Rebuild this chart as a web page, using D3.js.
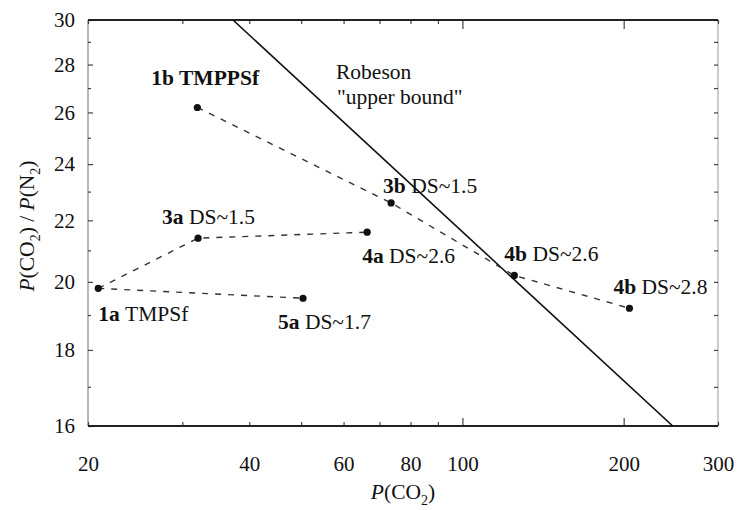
<!DOCTYPE html>
<html>
<head>
<meta charset="utf-8">
<script src="https://cdn.jsdelivr.net/npm/d3@7"></script>
<style>
  html, body { margin: 0; padding: 0; background: #fff; }
  svg { display: block; }
  svg text { font-family: "Liberation Serif", "DejaVu Serif", serif; fill: #111; }
</style>
</head>
<body>
<svg id="chart" width="737" height="510"></svg>
<script>
// ---------------- data ----------------
const pointIds    = ["1a", "1b", "3a", "3b", "4a", "4b", "4b", "5a"];
const pointNames  = ["TMPSf", "TMPPSf", "DS~1.5", "DS~1.5", "DS~2.6", "DS~2.6", "DS~2.8", "DS~1.7"];
const pCO2        = [20.9, 32.0, 32.1, 73.6, 66.4, 125, 205, 50.4];
const selectivity = [19.8, 26.2, 21.4, 22.6, 21.6, 20.2, 19.2, 19.5];
// dashed connections (indices into the point arrays)
const seriesA = [0, 2, 4];        // 1a -> 3a -> 4a
const seriesB = [0, 7];           // 1a -> 5a
const seriesC = [1, 3, 5, 6];     // 1b -> 3b -> 4b -> 4b
// Robeson upper bound end points
const robesonX = [37.3, 247];
const robesonY = [30, 16];
// ticks
const xTickLabels = [20, 40, 60, 80, 100, 200, 300];
const xMinorTicks = [20, 30, 40, 50, 60, 70, 80, 90, 100, 200, 300];
const xMajorTicks = [100, 200];
const yTickLabels = [16, 18, 20, 22, 24, 26, 28, 30];
const yMinorTicks = [16, 17, 18, 19, 20, 21, 22, 23, 24, 25, 26, 27, 28, 29, 30];

// ---------------- layout ----------------
const margin = { left: 88, top: 20, right: 19, bottom: 84 };
const W = 737, H = 510;
const x = d3.scaleLog().domain([20, 300]).range([margin.left, W - margin.right]);
const y = d3.scaleLog().domain([16, 30]).range([H - margin.bottom, margin.top]);

// label offsets relative to each point (px)
const labelOffsets = [
  [0, 33], [-46, -22], [-36, -14], [-8, -10],
  [-5, 31], [-10, -14], [-16, -14], [-25, 31]
];
const labelAllBold = [false, true, false, false, false, false, false, false];

const svg = d3.select("#chart");
const FS = 21.5;
const FONT = "Liberation Serif";

// ---------------- frame ----------------
const x0 = x.range()[0], x1 = x.range()[1];
const yTop = y.range()[1], yBot = y.range()[0];

svg.append("line").attr("x1", x0).attr("x2", x0).attr("y1", yTop).attr("y2", yBot)
  .attr("stroke", "#888").attr("stroke-width", 1.2);
svg.append("line").attr("x1", x1).attr("x2", x1).attr("y1", yTop).attr("y2", yBot)
  .attr("stroke", "#aaa").attr("stroke-width", 1.2);

const bottomTicks = svg.append("g").attr("transform", `translate(0,${yBot})`)
  .call(d3.axisBottom(x).tickValues(xMinorTicks).tickSizeInner(-4).tickSizeOuter(0).tickFormat(""));
bottomTicks.select(".domain").remove();
bottomTicks.selectAll(".tick line")
  .attr("y2", d => xMajorTicks.includes(d) ? -8 : -4)
  .attr("stroke", "#444").attr("stroke-width", 1.2);

const topTicks = svg.append("g").attr("transform", `translate(0,${yTop})`)
  .call(d3.axisTop(x).tickValues(xMinorTicks).tickSizeInner(-4).tickSizeOuter(0).tickFormat(""));
topTicks.select(".domain").remove();
topTicks.selectAll(".tick line")
  .attr("y2", d => xMajorTicks.includes(d) ? 9 : 4)
  .attr("stroke", "#444").attr("stroke-width", 1.2);

const leftTicks = svg.append("g").attr("transform", `translate(${x0},0)`)
  .call(d3.axisLeft(y).tickValues(yMinorTicks).tickSizeInner(-4).tickSizeOuter(0).tickFormat(""));
leftTicks.select(".domain").remove();
leftTicks.selectAll(".tick line")
  .attr("x2", d => d % 2 === 0 ? 5 : 3)
  .attr("stroke", "#444").attr("stroke-width", 1.2);

const rightTicks = svg.append("g").attr("transform", `translate(${x1},0)`)
  .call(d3.axisRight(y).tickValues(yMinorTicks).tickSizeInner(-4).tickSizeOuter(0).tickFormat(""));
rightTicks.select(".domain").remove();
rightTicks.selectAll(".tick line")
  .attr("x2", -4).attr("stroke", "#444").attr("stroke-width", 1.2);

svg.append("line").attr("x1", x0).attr("x2", x1).attr("y1", yTop).attr("y2", yTop)
  .attr("stroke", "#222").attr("stroke-width", 2.2);
svg.append("line").attr("x1", x0).attr("x2", x1).attr("y1", yBot).attr("y2", yBot)
  .attr("stroke", "#222").attr("stroke-width", 2.2);

// tick labels
const xLab = svg.append("g").attr("transform", `translate(0,${yBot})`)
  .call(d3.axisBottom(x).tickValues(xTickLabels).tickSize(0).tickPadding(30).tickFormat(d3.format("d")));
xLab.attr("font-family", FONT);
xLab.select(".domain").remove();
xLab.selectAll("text").attr("font-size", 21).attr("font-family", FONT).attr("fill", "#111");

const yLab = svg.append("g").attr("transform", `translate(${x0},0)`)
  .call(d3.axisLeft(y).tickValues(yTickLabels).tickSize(0).tickPadding(13).tickFormat(d3.format("d")));
yLab.attr("font-family", FONT);
yLab.select(".domain").remove();
yLab.selectAll("text").attr("font-size", 21).attr("font-family", FONT).attr("fill", "#111");

// ---------------- Robeson line ----------------
svg.append("defs").append("clipPath").attr("id", "plotClip")
  .append("rect").attr("x", x0).attr("y", yTop).attr("width", x1 - x0).attr("height", yBot - yTop);

const robData = robesonX.map((v, i) => [v, robesonY[i]]);
svg.append("path")
  .attr("clip-path", "url(#plotClip)")
  .attr("d", d3.line().x(d => x(d[0])).y(d => y(d[1]))(robData))
  .attr("fill", "none").attr("stroke", "#111").attr("stroke-width", 1.6);

svg.append("text").attr("x", 336).attr("y", 79).attr("font-size", FS).attr("font-family", FONT).text("Robeson");
svg.append("text").attr("x", 337).attr("y", 104).attr("font-size", FS).attr("font-family", FONT).text("\"upper bound\"");

// ---------------- dashed connections ----------------
const line = d3.line().x(i => x(pCO2[i])).y(i => y(selectivity[i]));
[seriesA, seriesB, seriesC].forEach(s => {
  svg.append("path").attr("d", line(s))
    .attr("fill", "none").attr("stroke", "#333").attr("stroke-width", 1.4)
    .attr("stroke-dasharray", "6,7");
});

// ---------------- points ----------------
svg.selectAll("circle.pt").data(pCO2.map((v, i) => i)).enter().append("circle")
  .attr("class", "pt")
  .attr("cx", i => x(pCO2[i])).attr("cy", i => y(selectivity[i]))
  .attr("r", 3.6).attr("fill", "#111");

// ---------------- point labels ----------------
pCO2.forEach((v, i) => {
  const t = svg.append("text")
    .attr("x", x(v) + labelOffsets[i][0])
    .attr("y", y(selectivity[i]) + labelOffsets[i][1])
    .attr("font-size", FS).attr("font-family", FONT);
  t.append("tspan").attr("font-weight", "bold").text(pointIds[i] + " ");
  t.append("tspan").attr("font-weight", labelAllBold[i] ? "bold" : "normal").text(pointNames[i]);
});

// ---------------- axis titles ----------------
const xt = svg.append("text").attr("x", 403).attr("y", 499).attr("text-anchor", "middle")
  .attr("font-size", 21.5).attr("font-family", FONT);
xt.append("tspan").attr("font-style", "italic").text("P");
xt.append("tspan").text("(CO");
xt.append("tspan").attr("font-size", 14).attr("dy", 6).text("2");
xt.append("tspan").attr("dy", -6).text(")");

const yt = svg.append("text").attr("transform", "translate(34,226) rotate(-90)")
  .attr("text-anchor", "middle").attr("font-size", 21.5).attr("font-family", FONT);
yt.append("tspan").attr("font-style", "italic").text("P");
yt.append("tspan").text("(CO");
yt.append("tspan").attr("font-size", 14).attr("dy", 6).text("2");
yt.append("tspan").attr("dy", -6).text(") / ");
yt.append("tspan").attr("font-style", "italic").text("P");
yt.append("tspan").text("(N");
yt.append("tspan").attr("font-size", 14).attr("dy", 6).text("2");
yt.append("tspan").attr("dy", -6).text(")");
</script>
</body>
</html>
